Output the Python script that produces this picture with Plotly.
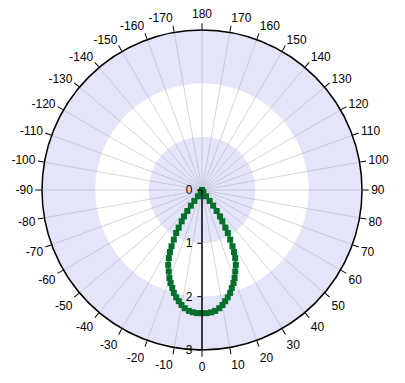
import plotly.graph_objects as go

# Data (left half, angle magnitude and radius); right half mirrored
half_theta = [0, 2.2, 4.3, 6.2, 8.3, 10.1, 11.8, 13.5, 15.3, 16.9, 18.7, 20.3, 22.2, 24.3,
              26.0, 27.3, 28.4, 29.6, 31.0, 31.8, 33.0, 34.3, 35.0, 35.5, 35.0, 33.0, 30.0, 0]
half_r = [2.31, 2.31, 2.30, 2.28, 2.24, 2.19, 2.13, 2.07, 2.00, 1.92, 1.84, 1.76, 1.65, 1.54,
          1.42, 1.31, 1.20, 1.07, 0.94, 0.83, 0.70, 0.60, 0.48, 0.36, 0.25, 0.14, 0.05, 0.0]

theta = [-t for t in half_theta[::-1]] + half_theta[1:]
r = half_r[::-1] + half_r[1:]

tick_vals = list(range(0, 360, 10))
tick_text = [str(v) if v <= 180 else str(v - 360) for v in tick_vals]
radial_ticks = [0, 1, 2, 3]
band_base = [0, 2]
band_len = [1, 1]

fig = go.Figure()
fig.add_trace(go.Barpolar(theta=[0, 0], r=band_len, base=band_base, width=[360, 360],
                          marker=dict(color="rgba(170,170,235,0.30)", line=dict(width=0)),
                          hoverinfo="skip", showlegend=False))
fig.add_trace(go.Scatterpolar(theta=theta, r=r, mode="lines+markers",
                              line=dict(color="#119a22", width=2.5),
                              marker=dict(symbol="square", size=6, color="#00702c"),
                              showlegend=False))

fig.update_layout(
    width=405, height=383,
    margin=dict(l=34, r=51, t=22, b=41),
    paper_bgcolor="white",
    font=dict(family="Liberation Sans, Arial", size=12, color="black"),
    polar=dict(
        bgcolor="white",
        domain=dict(x=[0, 1], y=[0, 1]),
        angularaxis=dict(rotation=-90, direction="counterclockwise",
                         tickvals=tick_vals, ticktext=tick_text,
                         showline=True, linecolor="black", linewidth=1.5,
                         ticks="outside", ticklen=6, tickcolor="black",
                         showgrid=True, gridcolor="#d6d6d6", gridwidth=1),
        radialaxis=dict(range=[0, 3], tickvals=radial_ticks, angle=-90,
                        showline=True, linecolor="black", linewidth=1.5,
                        ticks="outside", ticklen=4, tickcolor="black",
                        showgrid=False, side="clockwise",
                        tickangle=-90),
        bargap=0,
    ),
)

fig.write_html("out.html")
